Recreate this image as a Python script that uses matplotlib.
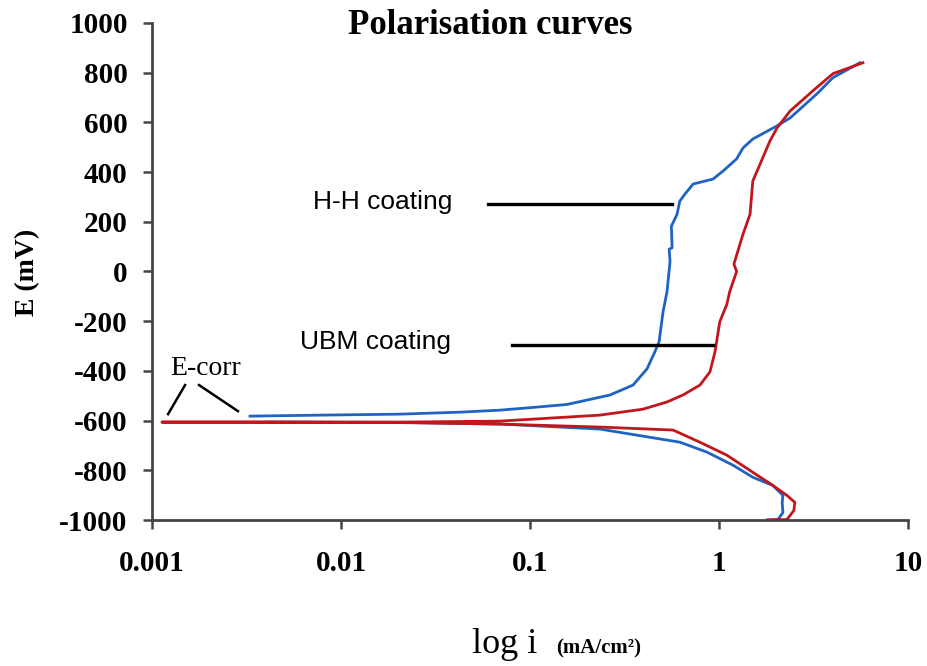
import matplotlib
matplotlib.use("Agg")
import matplotlib.pyplot as plt
from matplotlib.ticker import FixedLocator, NullLocator

plt.rcParams["axes.unicode_minus"] = False

# H-H coating: cathodic branch (from -1000 mV up to E-corr), then anodic branch
hh_cath_i = [1.80, 2.05, 2.18, 2.16, 2.18, 1.93, 1.51, 1.19, 0.865, 0.622, 0.234, 0.07, 0.02, 0.006, 0.004]
hh_cath_e = [-1000, -998, -970, -929, -901, -861, -828, -780, -727, -687, -634, -614, -607, -606, -606]
hh_anod_i = [0.0033, 0.00775, 0.0205, 0.0427, 0.0694, 0.1, 0.157, 0.265, 0.351, 0.416, 0.458,
             0.482, 0.506, 0.531, 0.551, 0.545, 0.565, 0.56, 0.60, 0.62, 0.66, 0.73, 0.93, 1.05,
             1.24, 1.34, 1.51, 2.03, 2.38, 3.30, 4.01, 5.57]
hh_anod_e = [-582, -578, -574, -566, -558, -548, -535, -497, -457, -392, -323,
             -283, -162, -81, 40, 90, 95, 182, 230, 283, 311, 352, 372, 404,
             453, 497, 533, 586, 618, 715, 780, 840]

# UBM coating
ubm_cath_i = [1.80, 2.29, 2.49, 2.52, 2.29, 1.93, 1.51, 1.10, 0.793, 0.571, 0.234, 0.0694, 0.0205, 0.0033, 0.00113]
ubm_cath_e = [-1000, -998, -962, -929, -901, -861, -808, -739, -687, -638, -626, -614, -608, -606, -606]
ubm_anod_i = [0.00113, 0.0033, 0.0205, 0.0694, 0.234, 0.396, 0.531, 0.645, 0.793, 0.896, 0.953,
              1.01, 1.10, 1.14, 1.24, 1.20, 1.34, 1.46, 1.49, 1.51, 1.65, 1.86, 2.03, 2.38,
              3.14, 4.01, 5.78]
ubm_anod_e = [-606, -606, -606, -602, -578, -554, -525, -497, -457, -404, -323,
              -202, -133, -81, 0, 30, 150, 230, 311, 364, 432, 525, 578, 646,
              727, 796, 840]

x_ticks = [0.001, 0.01, 0.1, 1, 10]
x_tick_labels = ["0.001", "0.01", "0.1", "1", "10"]
y_ticks = list(range(-1000, 1001, 200))

blue = "#1f63c4"
red = "#c3161c"
axis_grey = "#454545"

fig = plt.figure(figsize=(9.28, 6.66), dpi=100)
ax = fig.add_axes([0.1638, 0.2192, 0.8146, 0.7463])

# blue branches drawn apart so the left tip ends cleanly above E-corr
ax.plot(hh_cath_i, hh_cath_e, color=blue, lw=2.0)
ax.plot(hh_anod_i, hh_anod_e, color=blue, lw=2.0)
ax.plot(ubm_cath_i + ubm_anod_i, ubm_cath_e + ubm_anod_e, color=red, lw=2.0)

ax.set_xscale("log")
ax.set_xlim(0.001, 10)
ax.set_ylim(-1000, 1000)
ax.xaxis.set_major_locator(FixedLocator(x_ticks))
ax.xaxis.set_minor_locator(NullLocator())
ax.set_xticklabels(x_tick_labels)
ax.set_yticks(y_ticks)

for side in ["top", "right"]:
    ax.spines[side].set_visible(False)
for side in ["left", "bottom"]:
    ax.spines[side].set_color(axis_grey)
    ax.spines[side].set_linewidth(2.0)

ax.tick_params(axis="both", which="major", direction="out", length=6.5, width=1.8, color=axis_grey)
ax.tick_params(axis="y", pad=11)
ax.tick_params(axis="x", pad=15)
for lab in ax.get_xticklabels() + ax.get_yticklabels():
    lab.set_fontfamily("Liberation Serif")
    lab.set_fontweight("bold")
    lab.set_fontsize(21)

# pointer lines and labels for the two coatings
ax.plot([0.060, 0.564], [271, 271], color="black", lw=2.4)
ax.plot([0.0804, 0.929], [-295, -295], color="black", lw=2.4)
ax.text(0.00711, 280, "H-H coating", family="Liberation Sans", fontsize=19,
        ha="left", va="center")
ax.text(0.00606, -282, "UBM coating", family="Liberation Sans", fontsize=19,
        ha="left", va="center")

# E-corr marker
ax.plot([0.001216, 0.001496], [-574, -457], color="black", lw=1.8)
ax.plot([0.001774, 0.00285], [-457, -562], color="black", lw=1.8)
ax.text(0.00125, -392, "E-corr", family="Liberation Serif", fontsize=20,
        ha="left", va="center")

fig.text(490 / 928, 1 - 26 / 666, "Polarisation curves", family="Liberation Serif",
         fontsize=25, fontweight="bold", ha="center", va="center")
fig.text(28 / 928, 1 - 272 / 666, "E (mV)", family="Liberation Serif", fontsize=20,
         fontweight="bold", rotation=90, ha="center", va="center")
fig.text(537 / 928, 1 - 653 / 666, "log i", family="Liberation Serif", fontsize=26,
         ha="right", va="baseline")
fig.text(556 / 928, 1 - 653 / 666, "(mA/cm²)", family="Liberation Serif", fontsize=15,
         fontweight="bold", ha="left", va="baseline")

fig.savefig("out.png", dpi=100)
